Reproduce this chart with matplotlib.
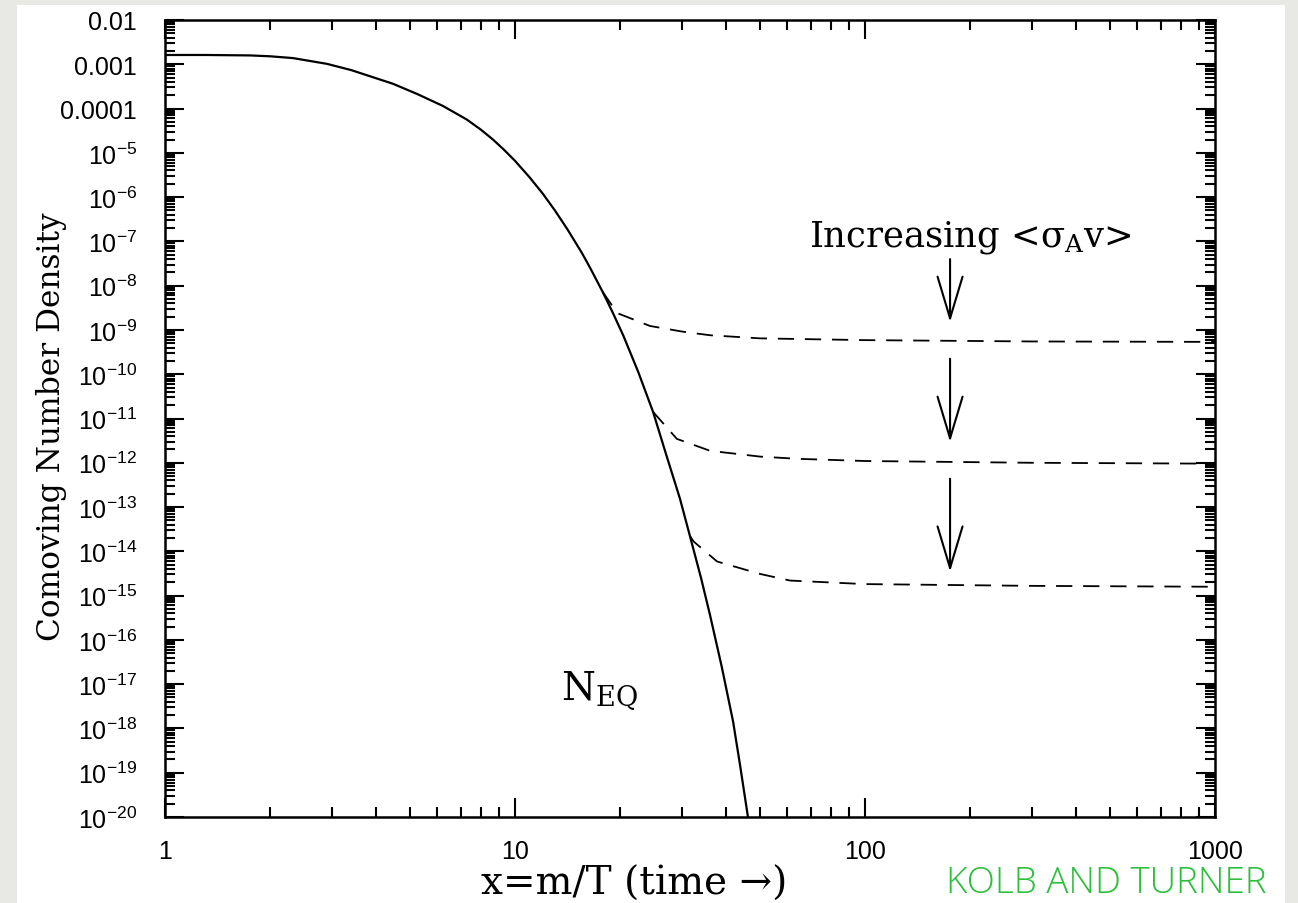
import numpy as np
import matplotlib
matplotlib.use("Agg")
import matplotlib.pyplot as plt
from matplotlib.patches import Rectangle
from matplotlib.ticker import FixedLocator, LogLocator, FixedFormatter, NullFormatter

plt.rcParams["mathtext.default"] = "regular"

# ---- data ----
# equilibrium curve N_EQ : x and log10(Y)
x_eq = [1.0, 1.3, 1.75, 2.0, 2.32, 2.9, 3.4, 3.85, 4.48, 5.25, 6.22, 7.29, 8.0, 8.65, 9.3, 10.0,
        11.0, 12.0, 13.0, 14.1, 15.5, 16.4, 17.8, 19.0, 20.4, 22.5, 24.8, 27.0, 29.6,
        31.6, 34.0, 36.1, 39.0, 42.0, 44.0, 46.3]
logy_eq = [-2.79, -2.79, -2.80, -2.82, -2.86, -2.99, -3.13, -3.27, -3.44, -3.67, -3.94, -4.25,
           -4.48, -4.70, -4.93, -5.18, -5.55, -5.92, -6.30, -6.72, -7.25, -7.60, -8.14, -8.60,
           -9.13, -9.95, -10.85, -11.80, -12.81, -13.65, -14.60, -15.45, -16.62, -17.85,
           -18.85, -20.0]

# freeze-out (dashed) curves
x_f1 = [17.8, 19.6, 24.3, 30.2, 36.1, 50.1, 100, 300, 1000]
logy_f1 = [-8.14, -8.62, -8.91, -9.04, -9.12, -9.19, -9.23, -9.26, -9.27]
x_f2 = [24.8, 29.0, 36.1, 50.1, 63.9, 100, 300, 1000]
logy_f2 = [-10.85, -11.46, -11.73, -11.86, -11.91, -11.96, -12.0, -12.02]
x_f3 = [31.6, 32.4, 37.8, 50.1, 61.1, 100, 300, 1000]
logy_f3 = [-13.65, -13.78, -14.23, -14.51, -14.66, -14.74, -14.78, -14.80]

# arrows "Increasing <sigma v>"
arrow_x = 175
arrow_tail_logy = [-7.40, -9.65, -12.36]
arrow_tip_logy = [-8.82, -11.53, -14.46]

# axis ticks
y_major_exp = list(range(-20, -1))
y_tick_labels = {-2: "0.01", -3: "0.001", -4: "0.0001"}
x_ticks = [1, 10, 100, 1000]
x_tick_labels = ["1", "10", "100", "1000"]

# ---- figure ----
W, H = 1298, 904
fig = plt.figure(figsize=(W / 100, H / 100), dpi=100)
fig.patch.set_facecolor("#e8e9e5")
fig.add_artist(Rectangle((17 / W, 0), (1285 - 17) / W, (904 - 6) / H,
                         transform=fig.transFigure, facecolor="white",
                         edgecolor="none", zorder=-10))

ax_l, ax_r, ax_t, ax_b = 165, 1215, 21, 818
ax = fig.add_axes([ax_l / W, 1 - ax_b / H, (ax_r - ax_l) / W, (ax_b - ax_t) / H])
ax.set_facecolor("white")
ax.set_xscale("log")
ax.set_yscale("log")
ax.set_xlim(1, 1000)
ax.set_ylim(1e-20, 1e-2)

ax.plot(x_eq, 10.0 ** np.array(logy_eq), color="black", lw=1.6, solid_capstyle="butt",
        solid_joinstyle="round")
for xs, ls in [(x_f1, logy_f1), (x_f2, logy_f2), (x_f3, logy_f3)]:
    ax.plot(xs, 10.0 ** np.array(ls), color="black", lw=1.3, dashes=(9, 6))

for t0, t1 in zip(arrow_tail_logy, arrow_tip_logy):
    ax.annotate("", xy=(arrow_x, 10.0 ** t1), xytext=(arrow_x, 10.0 ** t0),
                arrowprops=dict(arrowstyle="->,head_length=1.5,head_width=0.45",
                                lw=1.5, color="black", mutation_scale=20,
                                shrinkA=0, shrinkB=0))

ax.text(200, 10 ** -6.88, r"Increasing <$\sigma_{\mathrm{A}}$v>", ha="center", va="center",
        fontsize=25.5, family="DejaVu Serif", math_fontfamily="dejavuserif")
ax.text(13.5, 10 ** -17.33, r"N$_{\mathrm{EQ}}$", ha="left", va="baseline",
        fontsize=28, family="DejaVu Serif", math_fontfamily="dejavuserif")

# ticks
ax.yaxis.set_major_locator(FixedLocator([10.0 ** e for e in y_major_exp]))
ylabels = [y_tick_labels.get(e, r"$10^{%d}$" % e) for e in y_major_exp]
ax.yaxis.set_major_formatter(FixedFormatter(ylabels))
ax.yaxis.set_minor_locator(LogLocator(base=10, subs=np.arange(2, 10), numticks=500))
ax.yaxis.set_minor_formatter(NullFormatter())
ax.xaxis.set_major_locator(FixedLocator(x_ticks))
ax.xaxis.set_major_formatter(FixedFormatter(x_tick_labels))
ax.xaxis.set_minor_locator(LogLocator(base=10, subs=np.arange(2, 10), numticks=100))
ax.xaxis.set_minor_formatter(NullFormatter())

ax.tick_params(which="both", direction="in", top=True, right=True, width=1.5, color="black")
ax.tick_params(which="major", length=14)
ax.tick_params(which="minor", length=7)
ax.tick_params(axis="y", which="major", pad=20, labelsize=18)
ax.tick_params(axis="x", which="major", pad=16, labelsize=18)
for lab in ax.get_xticklabels() + ax.get_yticklabels():
    lab.set_family("Liberation Sans")
for sp in ax.spines.values():
    sp.set_linewidth(1.8)

ax.set_xlabel("x=m/T (time \u2192)", fontsize=28, family="DejaVu Serif")
ax.xaxis.set_label_coords((634 - ax_l) / (ax_r - ax_l), (ax_b - 884) / (ax_b - ax_t))
ax.xaxis.label.set_va("center")
ax.set_ylabel("Comoving Number Density", fontsize=22.5, family="DejaVu Serif")
ax.yaxis.set_label_coords((52 - ax_l) / (ax_r - ax_l), (ax_b - 427) / (ax_b - ax_t))
ax.yaxis.label.set_va("center")

fig.text(1106 / W, 1 - 884 / H, "KOLB AND TURNER", color="#2dbf3c", fontsize=26.5,
         family="Open Sans", fontweight="light", ha="center", va="center")

fig.savefig("out.png", dpi=100, facecolor=fig.get_facecolor())
